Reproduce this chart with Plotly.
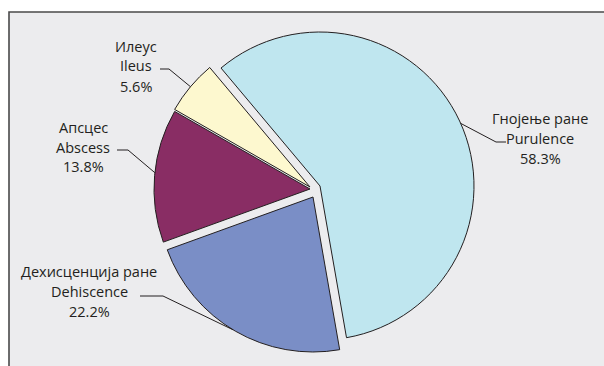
import math
import plotly.graph_objects as go

# Complications after surgery (share of cases, %)
labels_sr = ["Гнојење ране", "Дехисценција ране", "Апсцес", "Илеус"]
labels_en = ["Purulence", "Dehiscence", "Abscess", "Ileus"]
shares = [58.3, 22.2, 13.8, 5.6]

# Styling / layout (pixels in a 604x366 canvas)
W, H = 604, 366
colors = ["#BFE6EF", "#7A8EC6", "#892D64", "#FDF8CF"]
outline = "#231F20"
text_color = "#231F20"
font_family = "Open Sans"
font_size = 14.5
line_gap = 20            # vertical distance between label lines
rotation = -40           # first slice starts 40° left of 12 o'clock

# each slice is drawn exploded around its own centre
slice_center = [(320, 186), (313, 197), (310, 189), (310, 187)]
slice_radius = [154, 155, 156, 156]

# label blocks: centre of the three text lines, leader start, elbow, anchor angle on the arc
label_center = [(540, 138), (89, 291), (83, 147), (136, 66)]
leader_start = [(506, 142), (140, 296), (117, 150), (160, 69)]
leader_elbow = [(496, 142), (163, 296), (128, 150), (169, 69)]
anchor_angle = [66, 211, 276, 310]


def px(x):
    return x / W


def py(y):
    return 1 - y / H


fig = go.Figure()

for i, (cx, cy) in enumerate(slice_center):
    r = slice_radius[i]
    fills = [colors[j] if j == i else "rgba(0,0,0,0)" for j in range(len(shares))]
    widths = [1 if j == i else 0 for j in range(len(shares))]
    fig.add_trace(go.Pie(
        labels=labels_en,
        values=shares,
        sort=False,
        direction="clockwise",
        rotation=rotation,
        marker=dict(colors=fills, line=dict(color=outline, width=widths)),
        textinfo="none",
        hoverinfo="label+percent",
        showlegend=False,
        domain=dict(x=[px(cx - r), px(cx + r)], y=[py(cy + r), py(cy - r)]),
    ))

shapes = [
    # framed light-grey panel
    dict(type="rect", xref="paper", yref="paper",
         x0=px(9), x1=px(W + 10), y0=py(H + 10), y1=py(12),
         fillcolor="#ECECEE", line=dict(color="#4A4A4A", width=1.6), layer="below"),
]

annotations = []
for i in range(len(shares)):
    cx, cy = slice_center[i]
    r = slice_radius[i]
    a = math.radians(anchor_angle[i])
    ax, ay = cx + r * math.sin(a), cy - r * math.cos(a)
    (sx, sy), (ex, ey) = leader_start[i], leader_elbow[i]
    shapes.append(dict(
        type="path", xref="paper", yref="paper",
        path=f"M {px(sx)} {py(sy)} L {px(ex)} {py(ey)} L {px(ax)} {py(ay)}",
        line=dict(color=outline, width=1),
    ))
    lines = [labels_sr[i], labels_en[i], f"{shares[i]:.1f}%"]
    lx, ly = label_center[i]
    for k, t in enumerate(lines):
        annotations.append(dict(
            x=px(lx), y=py(ly + (k - 1) * line_gap), xref="paper", yref="paper",
            text=t, showarrow=False, xanchor="center", yanchor="middle",
            font=dict(family=font_family, size=font_size, color=text_color),
        ))

fig.update_layout(
    width=W, height=H,
    margin=dict(l=0, r=0, t=0, b=0),
    paper_bgcolor="white",
    plot_bgcolor="white",
    shapes=shapes,
    annotations=annotations,
)

fig.write_html("out.html")
